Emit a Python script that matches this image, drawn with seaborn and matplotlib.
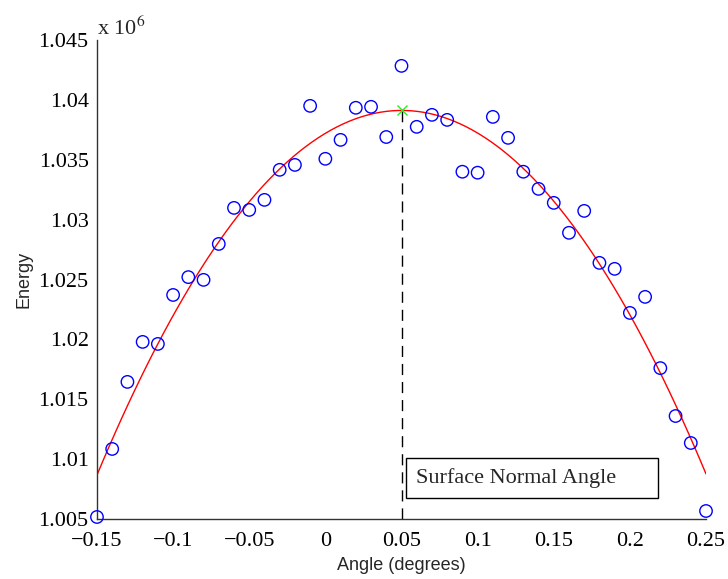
import numpy as np
import seaborn as sns
import matplotlib.pyplot as plt
from matplotlib.patches import Rectangle
from matplotlib.ticker import FuncFormatter

# data
angle = np.round(np.arange(-0.15, 0.2501, 0.01), 2)
energy_m = [1.00517, 1.01085, 1.01645, 1.01979, 1.01962, 1.02371, 1.02520, 1.02497,
            1.02797, 1.03098, 1.03081, 1.03165, 1.03416, 1.03457, 1.03950, 1.03508,
            1.03666, 1.03934, 1.03942, 1.03690, 1.04284, 1.03775, 1.03875, 1.03833,
            1.03400, 1.03392, 1.03858, 1.03683, 1.03400, 1.03257, 1.03140, 1.02890,
            1.03073, 1.02639, 1.02589, 1.02221, 1.02355, 1.01760, 1.01360, 1.01135,
            1.00567]
energy = np.array(energy_m) * 1e6

x_ticks = [-0.15, -0.1, -0.05, 0, 0.05, 0.1, 0.15, 0.2, 0.25]
y_ticks = [1.005e6, 1.01e6, 1.015e6, 1.02e6, 1.025e6, 1.03e6, 1.035e6, 1.04e6, 1.045e6]

sns.set_theme(style="white")
plt.rcParams['font.family'] = 'Liberation Serif'
plt.rcParams['mathtext.fontset'] = 'stix'

fig = plt.figure(figsize=(7.28, 5.79), dpi=100)
ax = fig.add_axes([0.1332, 0.1036, 0.8366, 0.8273])

# quadratic fit (red line)
sns.regplot(x=angle, y=energy, order=2, ci=None, scatter=False, truncate=True,
            line_kws={'color': 'red', 'linewidth': 1}, ax=ax)

# measured points
sns.scatterplot(x=angle, y=energy, marker='o', s=80, facecolor='none',
                edgecolor='blue', linewidth=1, ax=ax, zorder=3, clip_on=False)

# peak of fit
c = np.polyfit(angle, energy, 2)
peak_x = -c[1] / (2 * c[0])
peak_y = np.polyval(c, peak_x)
ax.plot([peak_x, peak_x], [y_ticks[0], peak_y], color='black', linestyle=(0, (8, 5)),
        linewidth=1)
ax.plot(peak_x, peak_y, marker='x', color='#22ee22', markersize=7, mew=1)

# annotation box
ax.add_patch(Rectangle((0.5074, 0.0438), 0.4138, 0.0835, transform=ax.transAxes,
                       facecolor='white', edgecolor='black', lw=1, zorder=4))
ax.text(0.5238, 0.0856, 'Surface Normal Angle', transform=ax.transAxes,
        fontsize=16, va='center', ha='left', zorder=5)

ax.set_xlim(-0.15, 0.25)
ax.set_ylim(1.005e6, 1.045e6)
ax.set_xticks(x_ticks)
ax.set_yticks(y_ticks)
ax.xaxis.set_major_formatter(FuncFormatter(lambda v, p: ('%g' % v).replace('-', '\u2212')))
ax.yaxis.set_major_formatter(FuncFormatter(lambda v, p: '%g' % (v / 1e6)))
ax.tick_params(axis='y', direction='in', length=6, labelsize=16, width=0.8, colors='black', pad=6)
ax.tick_params(axis='x', direction='in', length=6, labelsize=16, width=0.8, colors='black', pad=9)
for s in ['top', 'right']:
    ax.spines[s].set_visible(False)
for s in ['left', 'bottom']:
    ax.spines[s].set_color('#333333')
    ax.spines[s].set_linewidth(1)

ax.set_xlabel('Angle (degrees)', fontsize=13, family='Liberation Sans', labelpad=5)
ax.set_ylabel('Energy', fontsize=13, family='Liberation Sans', labelpad=4)
ax.text(0, 1.0, 'x 10$^6$', transform=ax.transAxes, fontsize=16, va='bottom', ha='left')

fig.savefig('out.png', dpi=100)
